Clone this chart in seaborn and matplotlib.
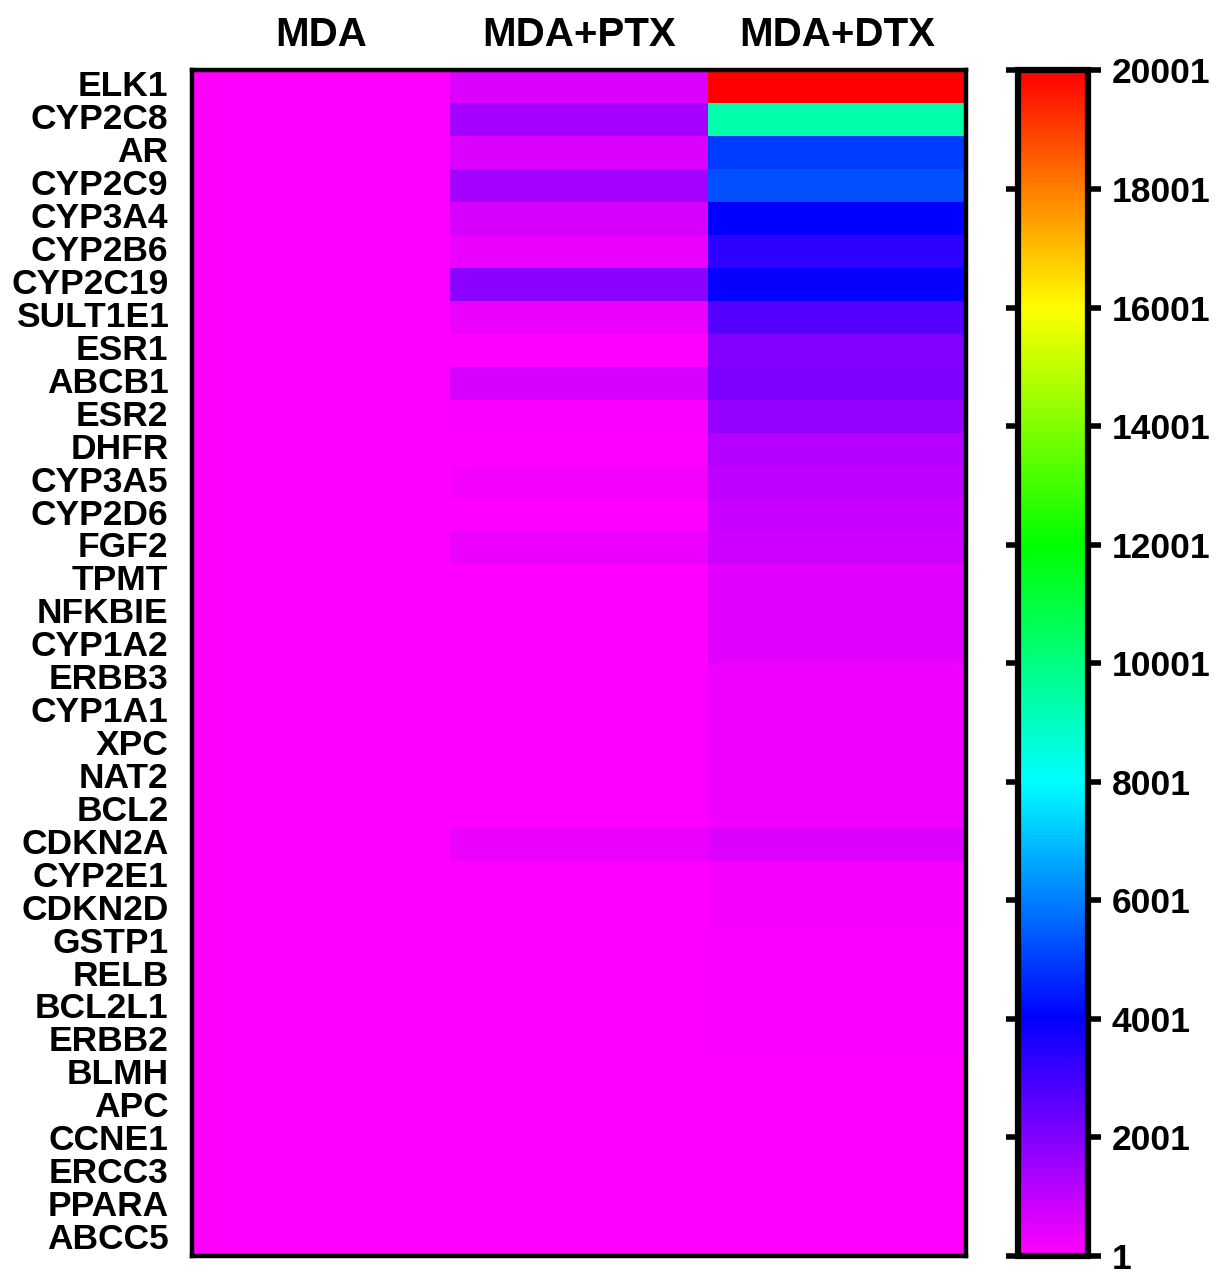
import numpy as np
import pandas as pd
import matplotlib
matplotlib.use("Agg")
import matplotlib.pyplot as plt
import seaborn as sns
from matplotlib.colors import LinearSegmentedColormap

# Gene rows and treatment columns
genes = ["ELK1", "CYP2C8", "AR", "CYP2C9", "CYP3A4", "CYP2B6", "CYP2C19", "SULT1E1",
         "ESR1", "ABCB1", "ESR2", "DHFR", "CYP3A5", "CYP2D6", "FGF2", "TPMT", "NFKBIE",
         "CYP1A2", "ERBB3", "CYP1A1", "XPC", "NAT2", "BCL2", "CDKN2A", "CYP2E1", "CDKN2D",
         "GSTP1", "RELB", "BCL2L1", "ERBB2", "BLMH", "APC", "CCNE1", "ERCC3", "PPARA", "ABCC5"]
groups = ["MDA", "MDA+PTX", "MDA+DTX"]

# Values estimated from the colour of each cell
mda = [1] * 36
ptx = [610, 1410, 610, 1410, 660, 330, 1835, 330,
       1, 630, 80, 50, 235, 60, 360, 40, 40,
       40, 30, 30, 30, 30, 30, 390, 20, 20,
       15, 15, 10, 10, 10, 5, 5, 5, 5, 1]
dtx = [20001, 9350, 4940, 5255, 4001, 3295, 3950, 2670,
       2010, 2100, 1660, 1180, 1050, 925, 860, 490, 490,
       480, 300, 280, 260, 250, 240, 550, 180, 160,
       140, 120, 100, 90, 70, 60, 50, 40, 30, 20]

cbar_ticks = [1, 2001, 4001, 6001, 8001, 10001, 12001, 14001, 16001, 18001, 20001]

df = pd.DataFrame({"MDA": mda, "MDA+PTX": ptx, "MDA+DTX": dtx}, index=genes)[groups]

cmap = LinearSegmentedColormap.from_list(
    "magenta_red",
    [(0.0, "#FF00FF"), (0.2, "#0000FF"), (0.4, "#00FFFF"),
     (0.6, "#00FF00"), (0.8, "#FFFF00"), (1.0, "#FF0000")])

plt.rcParams["font.family"] = ["Liberation Sans", "DejaVu Sans"]
plt.rcParams["font.weight"] = "bold"

fig = plt.figure(figsize=(12.23, 12.72), dpi=100)
ax = fig.add_axes([0.157, 0.0126, 0.633, 0.932])
cax = fig.add_axes([0.8325, 0.0126, 0.057, 0.932])

sns.heatmap(df, ax=ax, cbar_ax=cax, cmap=cmap, vmin=1, vmax=20001,
            cbar_kws={"ticks": cbar_ticks})

# heatmap frame and labels
for s in ax.spines.values():
    s.set_visible(True)
    s.set_linewidth(3.2)
    s.set_color("black")
ax.xaxis.tick_top()
ax.set_xlabel("")
ax.set_ylabel("")
ax.tick_params(axis="both", length=0)
ax.tick_params(axis="x", pad=12, labelsize=29)
ax.tick_params(axis="y", pad=17, labelsize=25.5)
plt.setp(ax.get_xticklabels(), rotation=0, fontweight="bold")
plt.setp(ax.get_yticklabels(), rotation=0, fontweight="bold")

# colorbar styling
cbar = ax.collections[0].colorbar
cbar.outline.set_linewidth(4.5)
cbar.outline.set_edgecolor("black")
cax.tick_params(which="both", left=True, right=True, direction="out",
                length=9, width=4, labelsize=25.5, pad=8)
cax.minorticks_off()
cbar.set_ticklabels([str(t) for t in cbar_ticks])
plt.setp(cax.get_yticklabels(), fontweight="bold")

fig.savefig("out.png", dpi=100)
